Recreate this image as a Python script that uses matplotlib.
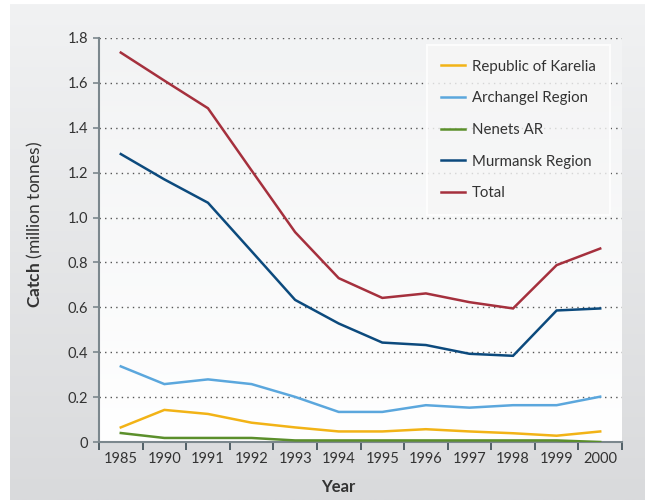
import numpy as np
import matplotlib
matplotlib.use("Agg")
import matplotlib.pyplot as plt
from matplotlib.colors import LinearSegmentedColormap

plt.rcParams['font.family'] = ['Lato', 'DejaVu Sans']
plt.rcParams['mathtext.fontset'] = 'custom'
plt.rcParams['mathtext.bf'] = 'Lato:bold'
plt.rcParams['mathtext.rm'] = 'Lato'

# data
years = ['1985', '1990', '1991', '1992', '1993', '1994', '1995', '1996', '1997', '1998', '1999', '2000']
karelia = [0.065, 0.143, 0.125, 0.086, 0.065, 0.047, 0.047, 0.057, 0.047, 0.039, 0.028, 0.047]
archangel = [0.337, 0.258, 0.279, 0.258, 0.201, 0.134, 0.134, 0.164, 0.153, 0.164, 0.164, 0.202]
nenets = [0.040, 0.018, 0.018, 0.018, 0.007, 0.007, 0.007, 0.007, 0.007, 0.007, 0.007, 0.0]
murmansk = [1.283, 1.170, 1.066, 0.850, 0.633, 0.528, 0.443, 0.432, 0.393, 0.384, 0.586, 0.595]
total = [1.735, 1.610, 1.487, 1.210, 0.935, 0.730, 0.642, 0.662, 0.623, 0.595, 0.788, 0.862]

series = [
    ('Republic of Karelia', karelia, '#f2b316'),
    ('Archangel Region', archangel, '#5ba7dd'),
    ('Nenets AR', nenets, '#5b8f2b'),
    ('Murmansk Region', murmansk, '#0c4a7d'),
    ('Total', total, '#a5303d'),
]

W, H = 645, 500
fig = plt.figure(figsize=(W / 100, H / 100), dpi=100)
fig.patch.set_facecolor('white')

# grey gradient panel behind everything
bg = fig.add_axes([10 / W, 0, 1 - 10 / W, 1 - 4 / H], zorder=-5)
grad = np.linspace(0, 1, 256).reshape(-1, 1)
panel_cmap = LinearSegmentedColormap.from_list('panel', ['#f1f2f3', '#d9dadc'])
bg.imshow(grad, cmap=panel_cmap, aspect='auto', extent=[0, 1, 0, 1])
bg.set_axis_off()

left, right, top, bottom = 99, 622, 38, 442
ax = fig.add_axes([left / W, 1 - bottom / H, (right - left) / W, (bottom - top) / H])
ax.set_xlim(-0.5, len(years) - 0.5)
ax.set_ylim(0, 1.8)

plot_cmap = LinearSegmentedColormap.from_list('plot', ['#f2f3f4', '#ffffff'])
ax.imshow(np.linspace(0, 1, 256).reshape(-1, 1), cmap=plot_cmap, aspect='auto',
          extent=[-0.5, len(years) - 0.5, 0, 1.8], zorder=0)
ax.set_facecolor('none')

for yv in np.arange(0.2, 1.81, 0.2):
    ax.axhline(yv, color='#555555', lw=1.0, ls=(0, (1, 3)), zorder=1)

x = np.arange(len(years))
for name, vals, col in series:
    ax.plot(x, vals, color=col, lw=1.8, label=name, zorder=3, solid_joinstyle='miter')

for s in ['top', 'right']:
    ax.spines[s].set_visible(False)
for s in ['left', 'bottom']:
    ax.spines[s].set_color('#7b878d')
    ax.spines[s].set_linewidth(1.5)

ax.set_yticks(np.arange(0, 1.81, 0.2))
ax.set_yticklabels(['0', '0.2', '0.4', '0.6', '0.8', '1.0', '1.2', '1.4', '1.6', '1.8'])
ax.set_xticks(np.arange(-0.5, len(years), 1.0))
ax.set_xticklabels([])
ax.set_xticks(x, minor=True)
ax.set_xticklabels(years, minor=True)
ax.tick_params(axis='x', which='major', length=6, width=1.2, color='#3a4a52', direction='out')
ax.tick_params(axis='x', which='minor', length=0, pad=7, labelsize=10.5, labelcolor='#333333')
ax.tick_params(axis='y', length=4, width=1.2, color='#7b878d', pad=4, labelsize=10.5, labelcolor='#333333')

leg = ax.legend(loc='upper right', bbox_to_anchor=(0.977, 0.982), fontsize=10.8,
                frameon=True, fancybox=False, labelspacing=1.18, handlelength=1.6,
                handletextpad=0.45, borderpad=0.95, borderaxespad=0)
leg.get_frame().set_facecolor('#f6f6f6')
leg.get_frame().set_edgecolor('white')
leg.get_frame().set_linewidth(1.5)
for t in leg.get_texts():
    t.set_color('#333333')
leg.set_zorder(5)

fig.text(35 / W, 1 - 225 / H, r'$\bf{Catch}$ (million tonnes)', rotation=90,
         ha='center', va='center', fontsize=12.5, color='#333333')
fig.text(338 / W, 1 - 487 / H, 'Year', fontweight='bold', ha='center', va='center',
         fontsize=12, color='#333333')

fig.savefig('out.png', dpi=100)
